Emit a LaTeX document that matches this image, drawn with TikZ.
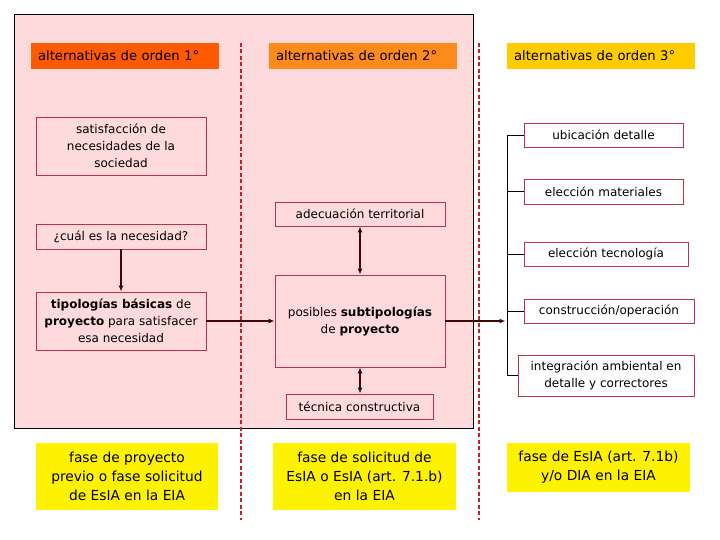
\documentclass[tikz,border=0pt]{standalone}
\usepackage{fontspec}
\setmainfont{DejaVu Sans}
\usetikzlibrary{arrows.meta,calc}
\definecolor{bgpink}{HTML}{FFDADC}
\definecolor{boxred}{HTML}{C0304A}
\definecolor{ordone}{HTML}{FF5A00}
\definecolor{ordtwo}{HTML}{FF8A1C}
\definecolor{ordthree}{HTML}{FFCC00}
\definecolor{arrowdark}{HTML}{3C0808}
\definecolor{sepred}{HTML}{CC1F2A}
\tikzset{
  header/.style={fill=#1, draw=none, text width=174pt, align=left,
    inner xsep=7pt, minimum height=26pt, font=\fontsize{13.2}{15}\selectfont},
  itembox/.style={draw=boxred, line width=0.8pt, fill=#1, align=center,
    inner sep=2pt, font=\fontsize{12}{17}\selectfont},
  itembox/.default=bgpink,
  phasebox/.style={fill=yellow, align=center, inner sep=2pt,
    font=\fontsize{13.8}{19}\selectfont},
  link/.style={draw=arrowdark, line width=1.5pt, -{Latex[length=6pt,width=5pt]}},
  dlink/.style={draw=arrowdark, line width=1.5pt,
    {Latex[length=6pt,width=5pt]}-{Latex[length=6pt,width=5pt]}},
  separator/.style={draw=sepred, line width=1.3pt, dash pattern=on 4pt off 2.5pt}
}

\begin{document}
\begin{tikzpicture}[x=1pt, y=-1pt]
  \useasboundingbox (0,0) rectangle (720,540);
  % background panel
  \draw[fill=bgpink, line width=0.8pt] (14,14) rectangle (473,428);
  \draw[separator] (241,43) -- (241,520);
  \draw[separator] (479,43) -- (479,520);

  % column headers
  \node[header=ordone] (ord1) at (125,56) {alternativas de orden 1°};
  \node[header=ordtwo] (ord2) at (363,56) {alternativas de orden 2°};
  \node[header=ordthree] (ord3) at (601,56) {alternativas de orden 3°};

  % first order
  \node[itembox, minimum width=170pt, minimum height=58pt] (satis) at (121,146)
    {satisfacción de\\necesidades de la\\sociedad};
  \node[itembox, minimum width=170pt, minimum height=25pt] (cual) at (121,236.5)
    {¿cuál es la necesidad?};
  \node[itembox, minimum width=170pt, minimum height=58pt] (tipo) at (121,321)
    {\textbf{tipologías básicas} de\\\textbf{proyecto} para satisfacer\\esa necesidad};

  % second order
  \node[itembox, minimum width=170pt, minimum height=24pt] (adec) at (360,214)
    {adecuación territorial};
  \node[itembox, minimum width=170pt, minimum height=92pt] (posib) at (360,321)
    {posibles \textbf{subtipologías}\\de \textbf{proyecto}};
  \node[itembox, minimum width=147pt, minimum height=25pt] (tecn) at (359.5,406.5)
    {técnica constructiva};

  % third order
  \node[itembox=white, minimum width=159pt, minimum height=24pt] (ubic) at (603.5,135)
    {ubicación detalle};
  \node[itembox=white, minimum width=159pt, minimum height=25pt] (mater) at (603.5,191.5)
    {elección materiales};
  \node[itembox=white, minimum width=164pt, minimum height=24pt] (tecno) at (606,254)
    {elección tecnología};
  \node[itembox=white, minimum width=170pt, minimum height=24pt] (constr) at (609,311)
    {construcción/operación};
  \node[itembox=white, minimum width=176pt, minimum height=41pt] (integ) at (606,375.5)
    {integración ambiental en\\detalle y correctores};

  % phases
  \node[phasebox, minimum width=182pt, minimum height=67pt] (fase1) at (127,476.5)
    {fase de proyecto\\previo o fase solicitud\\de EsIA en la EIA};
  \node[phasebox, minimum width=183pt, minimum height=67pt] (fase2) at (364.5,476.5)
    {fase de solicitud de\\EsIA o EsIA (art. 7.1.b)\\en la EIA};
  \node[phasebox, minimum width=183pt, minimum height=49pt] (fase3) at (598.5,467.5)
    {fase de EsIA (art. 7.1b)\\y/o DIA en la EIA};

  % connectors
  \coordinate (brk) at (507,0);
  \draw[link] (cual) -- (tipo);
  \draw[link] (tipo.east) -- (posib.west);
  \draw[dlink] (adec) -- (posib);
  \draw[dlink] (posib.south) -- (posib.south |- tecn.north);
  \draw[link] (posib.east) -- ($(posib.east -| brk)+(-1.5,0)$);
  \draw[line width=0.8pt] (ubic.west) -- (ubic.west -| brk) -- (integ.west -| brk) -- (integ.west);
  \draw[line width=0.8pt] (mater.west) -- (mater.west -| brk);
  \draw[line width=0.8pt] (tecno.west) -- (tecno.west -| brk);
  \draw[line width=0.8pt] (constr.west) -- (constr.west -| brk);
\end{tikzpicture}
\end{document}
